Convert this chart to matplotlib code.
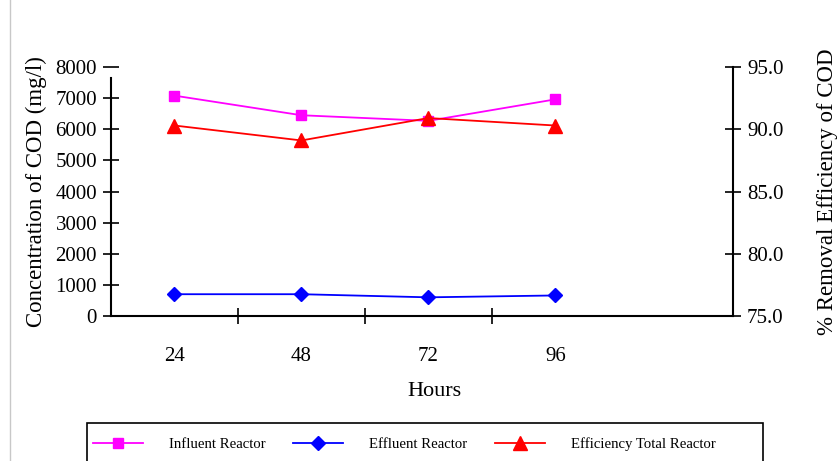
import matplotlib.pyplot as plt
from matplotlib.lines import Line2D
from matplotlib.patches import Rectangle

plt.rcParams['font.family'] = ['Liberation Serif', 'DejaVu Serif']

hours = ["24", "48", "72", "96"]
influent = [7080, 6450, 6270, 6960]        # mg/l
effluent = [700, 700, 600, 660]            # mg/l
efficiency = [90.3, 89.1, 90.9, 90.3]      # % removal

x = [i + 0.5 for i in range(len(hours))]

fig = plt.figure(figsize=(8.38, 4.61), dpi=100)
ax = fig.add_axes([111 / 838, 1 - 316 / 461, 622 / 838, 249 / 461])
ax2 = ax.twinx()

l1, = ax.plot(x, influent, color="#FF00FF", marker="s", markersize=7.5,
              linewidth=1.3, label="Influent Reactor")
l2, = ax.plot(x, effluent, color="#0000FF", marker="D", markersize=7,
              linewidth=1.3, label="Effluent Reactor")
l3, = ax2.plot(x, efficiency, color="#FF0000", marker="^", markersize=10,
               linewidth=1.3, label="Efficiency Total Reactor")

ax.set_xlim(0, 4.9)
ax.set_ylim(0, 8000)
ax.set_yticks(range(0, 8001, 1000))
ax2.set_ylim(75, 95)
ax2.set_yticks([75, 80, 85, 90, 95])
ax2.set_yticklabels([f"{v:.1f}" for v in [75, 80, 85, 90, 95]])

# separators between categories as major ticks, labels at centres as minor ticks
ax.set_xticks([1, 2, 3])
ax.set_xticklabels([])
ax.set_xticks(x, minor=True)
ax.set_xticklabels(hours, minor=True)
ax.tick_params(axis="x", which="major", direction="inout", length=12, width=1.2)
ax.tick_params(axis="x", which="minor", length=0, pad=22, labelsize=15)
ax.tick_params(axis="y", direction="inout", length=12, width=1.2, labelsize=15, pad=4)
ax2.tick_params(axis="y", direction="inout", length=12, width=1.2, labelsize=15, pad=4)

for a in (ax, ax2):
    a.spines["top"].set_visible(False)
    for s in ("left", "right", "bottom"):
        a.spines[s].set_linewidth(1.5)
ax.spines["left"].set_bounds(0, 7650)
ax.spines["right"].set_visible(False)
ax2.spines["left"].set_visible(False)
ax2.spines["bottom"].set_visible(False)

ax.set_ylabel("Concentration of COD (mg/l)", fontsize=16.5, labelpad=6)
ax2.set_ylabel("% Removal Efficiency of COD", fontsize=16.5, labelpad=24)
ax.set_xlabel("Hours", fontsize=16)
ax.xaxis.set_label_coords(0.52, -0.265)

# legend box, cut off by the bottom edge
fig.add_artist(Rectangle((87 / 838, -0.05), 676 / 838, 0.05 + 38 / 461,
                         transform=fig.transFigure, fill=False,
                         edgecolor="black", linewidth=1.2))
fig.legend(handles=[l1, l2, l3], loc="center left",
           bbox_to_anchor=(90 / 838, 1 - 444 / 461), ncol=3,
           fontsize=10.6, frameon=False, borderpad=0.2, handlelength=3.4,
           handletextpad=1.75, columnspacing=1.9, borderaxespad=0)

fig.add_artist(Line2D([10 / 838, 10 / 838], [0, 1], color="#c8c8c8", linewidth=1))

fig.savefig("out.png", dpi=100)
